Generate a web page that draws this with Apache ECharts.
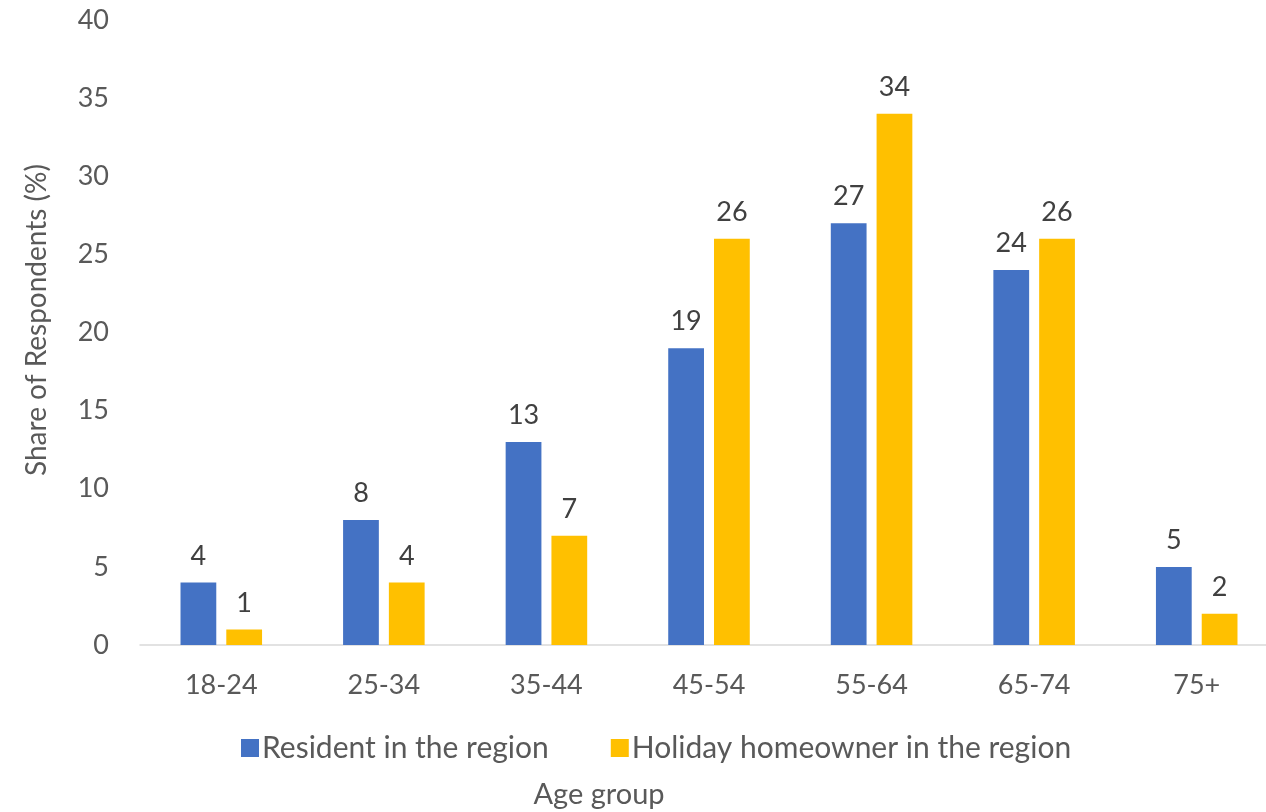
<!DOCTYPE html>
<html>
<head>
<meta charset="utf-8">
<title>Share of Respondents by Age Group</title>
<script src="https://cdn.jsdelivr.net/npm/echarts@6/dist/echarts.min.js"></script>
<style>
  html, body { margin: 0; padding: 0; background: #ffffff; }
  #chart { width: 1266px; height: 812px; }
</style>
</head>
<body>
<div id="chart"></div>
<script>
// Age groups on the x axis
const ageGroups = ['18-24', '25-34', '35-44', '45-54', '55-64', '65-74', '75+'];
// Share of respondents (%) per group
const residentShare = [4, 8, 13, 19, 27, 24, 5];
const holidayShare = [1, 4, 7, 26, 34, 26, 2];
const seriesNames = ['Resident in the region', 'Holiday homeowner in the region'];
// Value axis range
const yMin = 0, yMax = 40, yStep = 5;

const FONT = 'Lato, "Noto Sans", sans-serif';
const AXIS_TEXT = '#595959';
const LABEL_TEXT = '#404040';

const chart = echarts.init(document.getElementById('chart'), null, { renderer: 'canvas' });

const labelStyle = {
  show: true,
  position: 'top',
  distance: 13,
  color: LABEL_TEXT,
  fontFamily: FONT,
  fontSize: 27
};

chart.setOption({
  animation: false,
  backgroundColor: '#ffffff',
  // plot area runs a little past the right edge of the canvas
  grid: {
    left: 140, width: 1138, top: 20, height: 625,
    containLabel: false,
    outerBoundsMode: 'none'
  },
  legend: {
    left: 236,
    top: 728,
    itemWidth: 18,
    itemHeight: 18,
    itemGap: 62,
    icon: 'rect',
    textStyle: { color: AXIS_TEXT, fontFamily: FONT, fontSize: 30, padding: [0, 0, 0, -2] },
    data: seriesNames
  },
  xAxis: {
    type: 'category',
    data: ageGroups,
    axisLine: { show: true, lineStyle: { color: '#d9d9d9', width: 1.5 } },
    axisTick: { show: false },
    axisLabel: { color: AXIS_TEXT, fontFamily: FONT, fontSize: 27, margin: 27 },
    splitLine: { show: false }
  },
  yAxis: {
    type: 'value',
    min: yMin,
    max: yMax,
    interval: yStep,
    axisLine: { show: false },
    axisTick: { show: false },
    splitLine: { show: false },
    axisLabel: { color: AXIS_TEXT, fontFamily: FONT, fontSize: 27, margin: 31 }
  },
  graphic: [
    {
      type: 'text',
      x: 37,
      y: 320,
      rotation: Math.PI / 2,
      style: {
        text: 'Share of Respondents (%)',
        fill: AXIS_TEXT,
        font: '28px ' + FONT,
        textAlign: 'center',
        textVerticalAlign: 'middle'
      }
    },
    {
      type: 'text',
      x: 599,
      y: 795,
      style: {
        text: 'Age group',
        fill: AXIS_TEXT,
        font: '29px ' + FONT,
        textAlign: 'center',
        textVerticalAlign: 'middle'
      }
    }
  ],
  series: [
    {
      name: seriesNames[0],
      type: 'bar',
      data: residentShare,
      barWidth: '22%',
      barGap: '28%',
      itemStyle: { color: '#4472C4' },
      label: labelStyle
    },
    {
      name: seriesNames[1],
      type: 'bar',
      data: holidayShare,
      barWidth: '22%',
      itemStyle: { color: '#FFC000' },
      label: labelStyle
    }
  ]
});
</script>
</body>
</html>
